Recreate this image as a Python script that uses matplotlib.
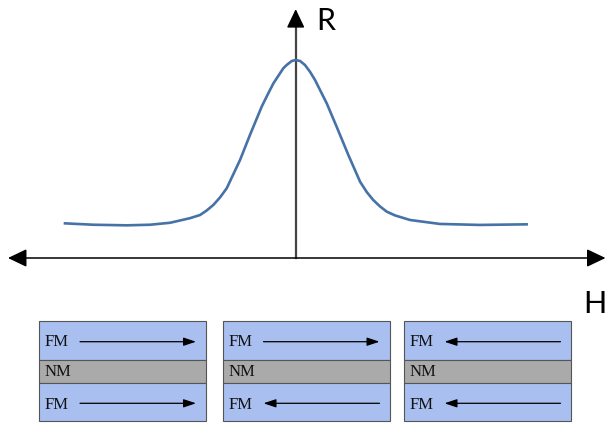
import matplotlib
matplotlib.use("Agg")
import matplotlib.pyplot as plt
from matplotlib.patches import Rectangle

# curve (field H, resistance R normalised to the peak)
field_h = [-1.003, -0.880, -0.735, -0.633, -0.546, -0.460, -0.416, -0.387,
           -0.358, -0.329, -0.300, -0.242, -0.199, -0.148, -0.123, -0.097,
           -0.054, -0.039, -0.017, 0.0, 0.019, 0.040, 0.062, 0.084, 0.109,
           0.135, 0.178, 0.229, 0.280, 0.309, 0.337, 0.367, 0.396, 0.432,
           0.497, 0.627, 0.801, 1.004]
resist_r = [0.175, 0.168, 0.165, 0.168, 0.178, 0.201, 0.217, 0.240,
            0.268, 0.306, 0.352, 0.495, 0.621, 0.764, 0.823, 0.882,
            0.958, 0.975, 0.995, 1.0, 0.995, 0.975, 0.941, 0.899, 0.841,
            0.781, 0.663, 0.520, 0.385, 0.333, 0.293, 0.260, 0.234, 0.215,
            0.192, 0.172, 0.167, 0.170]

# the three layer stacks under the curve: +1 -> right, -1 -> left
layer_names = ["FM", "NM", "FM"]
top_dir = [1, 1, -1]
bottom_dir = [1, -1, -1]

W, H = 606, 423
fig = plt.figure(figsize=(W / 100, H / 100), dpi=100)

# main axes, origin sits at pixel (295.7, 258)
ax = fig.add_axes([0, 0, 1, 1])
ax.set_xlim(-295.7 / 230, (W - 295.7) / 230)
ax.set_ylim(-(H - 258) / 198, 258 / 198)
ax.axis("off")

ax.plot(field_h, resist_r, color="#4672a7", lw=1.9, solid_joinstyle="round", zorder=3)

# axes with arrow heads
ax.annotate("", xy=(-1.251, 0), xytext=(1.347, 0),
            arrowprops=dict(arrowstyle="<|-|>,head_length=1.15,head_width=0.55",
                            color="black", lw=1.1, shrinkA=0, shrinkB=0))
ax.plot([0, 0], [0, 1.18], color="#444444", lw=1.6, zorder=2)
ax.annotate("", xy=(0, 1.257), xytext=(0, 1.17),
            arrowprops=dict(arrowstyle="-|>,head_length=1.15,head_width=0.55",
                            color="black", lw=1.1, shrinkA=0, shrinkB=0))

ax.text(0.132, 1.197, "R", fontsize=22, family="Lato", ha="center", va="center")
ax.text(1.300, -0.232, "H", fontsize=22, family="Lato", ha="center", va="center")

# layer sketches in pixel coordinates
bx = fig.add_axes([0, 0, 1, 1], zorder=-1)
bx.set_xlim(0, W)
bx.set_ylim(H, 0)
bx.axis("off")

lefts = [39, 222.5, 403.5]
bw = 167
bounds = [321, 360.5, 383.3, 421]
fills = ["#a8bff0", "#aaaaaa", "#a8bff0"]
text_y = [342, 372, 405]
arrow_y = [341.7, None, 403.3]

for i, left in enumerate(lefts):
    for j in range(3):
        bx.add_patch(Rectangle((left, bounds[j]), bw, bounds[j + 1] - bounds[j],
                               facecolor=fills[j], edgecolor="#555555", lw=0.8))
        bx.text(left + 6, text_y[j], layer_names[j], fontsize=12,
                family="Liberation Serif", color="#111111", va="center", ha="left")
    for d, y in ((top_dir[i], arrow_y[0]), (bottom_dir[i], arrow_y[2])):
        a, b = left + 41, left + 157
        tail, tip = (a, b) if d > 0 else (b, a)
        bx.annotate("", xy=(tip, y), xytext=(tail, y),
                    arrowprops=dict(arrowstyle="-|>,head_length=0.75,head_width=0.25",
                                    color="black", lw=0.9, shrinkA=0, shrinkB=0))

fig.savefig("out.png", dpi=100, facecolor="white")
